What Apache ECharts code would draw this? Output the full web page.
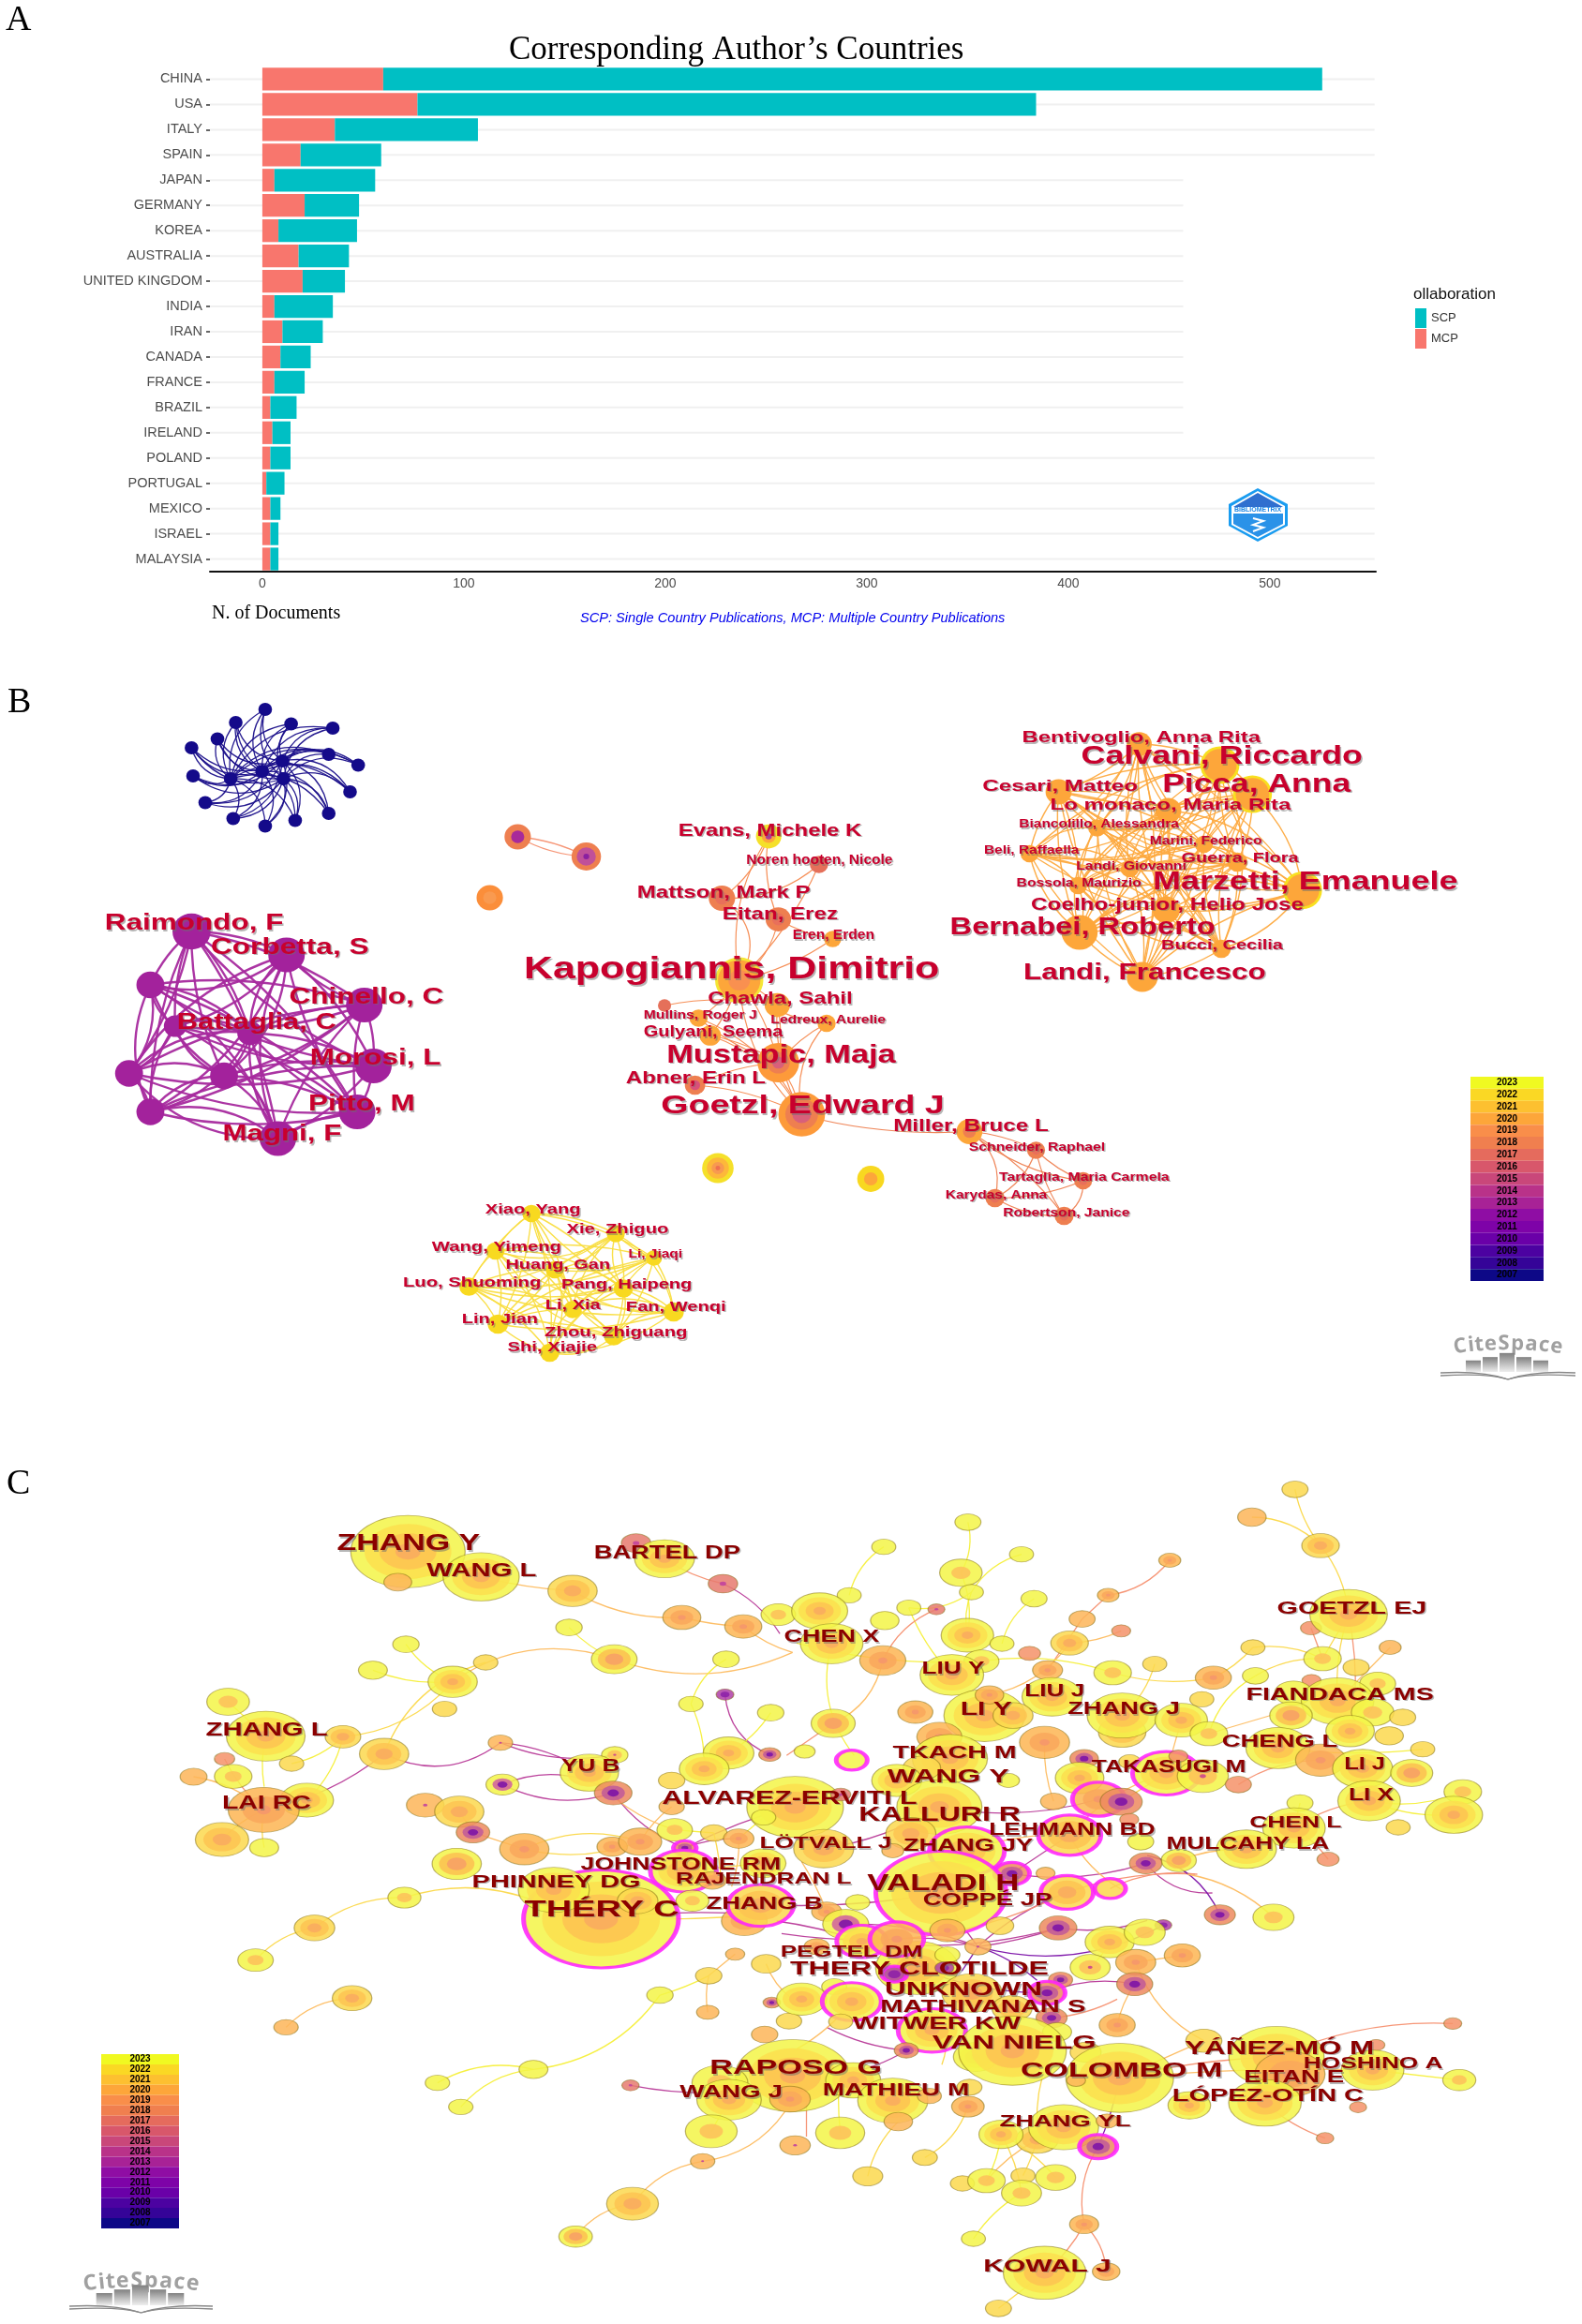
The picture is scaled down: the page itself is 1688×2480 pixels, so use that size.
<!DOCTYPE html>
<html><head><meta charset="utf-8">
<style>html,body{margin:0;padding:0;background:#fff}#c{width:1688px;height:2480px}</style>
<script src="https://cdn.jsdelivr.net/npm/echarts@6/dist/echarts.min.js"></script>
</head><body><div id="c"></div>
<script>
/* ---------- Panel A data ---------- */
const countries=['CHINA','USA','ITALY','SPAIN','JAPAN','GERMANY','KOREA','AUSTRALIA','UNITED KINGDOM','INDIA','IRAN','CANADA','FRANCE','BRAZIL','IRELAND','POLAND','PORTUGAL','MEXICO','ISRAEL','MALAYSIA'];
const mcpDocs=[60,77,36,19,6,21,8,18,20,6,10,9,6,4,5,4,2,4,4,4];
const scpDocs=[466,307,71,40,50,27,39,25,21,29,20,15,15,13,9,10,9,5,4,4];
const xTicks=[0,100,200,300,400,500];
const guideEnds=[552,552,552,552,457,457,457,457,457,457,457,457,457,457,457,552,552,552,552,552];
const years=[2023,2022,2021,2020,2019,2018,2017,2016,2015,2014,2013,2012,2011,2010,2009,2008,2007];
const yearColours=['#f0f921','#fad824','#fdc030','#fda63a','#f98e4a','#f07f4f','#e56b5d','#d8576b','#c9477a','#b93289','#a82296','#8f0da4','#7e03a8','#6a00a8','#4c02a1','#350498','#0d0887'];

/* ---------- Panel B data: [x, y, diameter, class] ---------- */
const blueNodes=[[522,74,27,'bN'],[464,102,27,'bN'],[573,105,27,'bN'],[655,114,27,'bN'],[428,137,27,'bN'],[377,156,27,'bN'],[647,170,27,'bN'],[705,193,27,'bN'],[380,216,27,'bN'],[689,250,27,'bN'],[404,273,27,'bN'],[647,296,27,'bN'],[459,307,27,'bN'],[581,311,27,'bN'],[522,323,27,'bN'],[556,184,27,'bN'],[516,206,27,'bN'],[558,222,27,'bN'],[454,222,27,'bN']];
const purpleNodes=[[377,548,75,'bP'],[564,598,72,'bP'],[296,662,55,'bP'],[717,705,72,'bP'],[345,750,45,'bP'],[492,765,50,'bP'],[735,835,72,'bP'],[254,851,55,'bP'],[441,856,55,'bP'],[703,933,72,'bP'],[296,933,55,'bP'],[547,990,72,'bP']];
const yellowNodes=[[1046,1150,36,'bL'],[1212,1193,36,'bL'],[975,1230,36,'bL'],[1287,1245,32,'bL'],[1092,1270,36,'bL'],[1227,1310,38,'bL'],[923,1306,38,'bL'],[1127,1355,36,'bL'],[1326,1360,40,'bL'],[980,1386,40,'bL'],[1208,1412,38,'bL'],[1082,1447,38,'bL']];
const centreNodes=[[1513,345,50,'bE'],[1421,477,52,'bR'],[1532,522,50,'bR'],[1455,652,95,'bK'],[1530,705,50,'bA'],[1308,706,26,'bS'],[1375,733,36,'bA'],[1398,770,42,'bA'],[1532,828,82,'bM'],[1368,876,40,'bB'],[1578,938,92,'bG'],[1612,405,36,'bS'],[1639,564,34,'bA'],[1627,744,36,'bA']];
const centreLinks=[[0,1,.15],[0,2,-.15],[11,1,.2],[11,3,.1],[1,3,.45],[2,3,.2],[12,2,.1],[3,4,.1],[3,8,.1],[3,10,-.2],[3,13,-.2],[3,6,.1],[3,7,.1],[4,8,.1],[4,10,-.15],[8,10,.1],[7,8,.1],[6,8,-.1],[7,10,.2],[9,8,.1],[9,10,.1],[13,8,-.1],[13,10,-.25],[5,4,.1],[0,3,-.2],[6,10,.2],[3,12,-.1]];
const looseNodesB=[[1019,346,52,'bI1'],[1154,388,58,'bI2'],[964,476,52,'bI3'],[1413,1053,62,'bI4']];
const looseLinksB=[[1019,346,1154,388,-.12,'r'],[1019,346,1154,388,.1,'r']];
const orangeNodes=[[684,148,50,'bA'],[845,193,78,'bAY'],[910,255,78,'bAY'],[523,250,52,'bA'],[742,290,52,'bA'],[600,327,36,'bA'],[813,362,36,'bA'],[465,382,36,'bA'],[665,414,36,'bA'],[880,400,40,'bA'],[562,450,36,'bA'],[1010,460,78,'bAY'],[738,502,55,'bA'],[565,550,72,'bA'],[848,585,38,'bA'],[690,645,62,'bA']];
const millerNodes=[[345,975,52,'bMi'],[478,1015,36,'bR'],[572,1080,36,'bR'],[396,1117,38,'bR'],[534,1155,38,'bR'],[148,1076,54,'bI5']];
const millerLinks=[[345,975,478,1015,.1,'r'],[345,975,572,1080,-.15,'r'],[345,975,396,1117,.35,'r'],[345,975,534,1155,.1,'r'],[478,1015,396,1117,.2,'r'],[478,1015,572,1080,-.1,'r'],[478,1015,534,1155,-.1,'r'],[572,1080,396,1117,.1,'r'],[572,1080,534,1155,.3,'r'],[396,1117,534,1155,-.15,'r'],[10,940,345,975,-.08,'r']];
/* labels: [text, x-start, x-end, y, font px] */
const labelsBLeft=[['Raimondo, F',206,558,532,23],['Corbetta, S',415,726,583,23],['Chinello, C',569,873,689,23],['Battaglia, C',348,662,743,23],['Morosi, L',610,868,820,23],['Pitto, M',607,817,918,23],['Magni, F',438,672,982,23],['Evans, Michele K',1335,1696,333,19],['Noren hooten, Nicole',1469,1757,397,14],['Mattson, Mark P',1254,1595,465,19],['Eitan, Erez',1422,1649,511,19],['Eren, Erden',1560,1721,557,14],['Kapogiannis, Dimitrio',1031,1849,630,33],['Chawla, Sahil',1393,1678,692,19],['Mullins, Roger J',1267,1490,726,13],['Ledreux, Aurelie',1517,1743,736,13],['Gulyani, Seema',1267,1541,764,16],['Mustapic, Maja',1312,1763,813,27],['Abner, Erin L',1232,1507,862,18],['Goetzl, Edward J',1301,1859,922,27],['Xiao, Yang',955,1143,1142,15],['Xie, Zhiguo',1115,1316,1184,15],['Wang, Yimeng',850,1105,1222,15],['Li, Jiaqi',1237,1343,1238,12],['Huang, Gan',995,1201,1260,15],['Luo, Shuoming',793,1065,1297,15],['Pang, Haipeng',1105,1362,1301,15],['Li, Xia',1073,1182,1345,15],['Fan, Wenqi',1232,1429,1349,15],['Lin, Jian',909,1059,1376,15],['Zhou, Zhiguang',1072,1353,1404,15],['Shi, Xiajie',999,1175,1436,15]];
const labelsBRight=[['Bentivoglio, Anna Rita',450,926,135,17],['Calvani, Riccardo',568,1130,176,27],['Picca, Anna',730,1106,235,27],['Cesari, Matteo',371,681,238,17],['Lo monaco, Maria Rita',506,987,279,17],['Biancolillo, Alessandra',444,763,320,12],['Marini, Federico',705,929,355,12],['Beli, Raffaella',374,564,376,12],['Guerra, Flora',768,1002,391,15],['Landi, Giovanni',558,778,409,12],['Bossola, Maurizio',439,688,445,12],['Marzetti, Emanuele',711,1320,444,27],['Coelho-junior, Helio Jose',468,1012,492,18],['Bernabei, Roberto',306,836,540,26],['Bucci, Cecilia',728,971,577,15],['Landi, Francesco',453,937,636,24],['Miller, Bruce L',193,503,964,18],['Schneider, Raphael',344,616,1008,13],['Tartaglia, Maria Carmela',404,744,1072,13],['Karydas, Anna',297,500,1110,13],['Robertson, Janice',412,665,1148,13]];

/* ---------- Panel C data (four reading frames) ---------- */
const nodesCTL=[[803,347,225,'Y'],[783,445,55,'o'],[947,428,150,'Y'],[1252,320,58,'s'],[1308,370,118,'Y'],[1423,450,58,'s'],[1127,473,97,'G'],[1342,558,75,'O'],[1463,587,73,'O'],[1532,549,68,'Yi'],[1120,590,52,'y'],[1209,692,90,'Yo'],[799,644,52,'y'],[734,727,57,'y'],[956,702,48,'g'],[891,764,97,'Y'],[875,851,48,'g'],[1429,692,52,'y'],[1427,805,35,'v'],[1360,835,48,'y'],[1517,863,52,'y'],[449,828,84,'Yi'],[523,938,155,'Y'],[675,940,70,'G'],[756,995,97,'G'],[985,959,48,'D'],[442,1011,40,'r'],[574,1026,48,'g'],[459,1067,74,'Yi'],[381,1068,53,'o'],[1210,998,52,'Yd'],[1160,1055,115,'Y'],[1434,992,100,'Y'],[1386,1043,98,'Y'],[1515,997,43,'p'],[1322,1080,52,'g'],[989,1093,65,'Yp'],[1207,1120,74,'p'],[604,1143,105,'Y'],[519,1174,140,'O'],[1322,1164,50,'o'],[837,1159,74,'D'],[904,1180,97,'G'],[1565,1165,190,'Y'],[1503,1198,48,'y'],[931,1246,66,'p'],[437,1269,105,'G'],[520,1295,57,'y'],[1032,1300,97,'O'],[1205,1292,60,'O'],[1260,1276,85,'O'],[1328,1238,70,'Yi'],[1405,1248,52,'g'],[1454,1266,60,'O'],[1348,1296,45,'pm'],[899,1347,97,'Yo'],[1345,1370,130,'Ym'],[1502,1345,90,'Y'],[1402,1400,55,'O']];
const nodesCTR=[[995,148,52,'g'],[909,237,57,'o'],[1046,328,75,'G'],[342,253,52,'y'],[174,332,48,'y'],[449,356,48,'y'],[745,375,44,'O'],[328,415,85,'Yi'],[105,487,48,'y'],[349,477,48,'y'],[474,498,52,'y'],[279,532,34,'s'],[46,537,112,'Y'],[224,527,48,'y'],[176,568,57,'y'],[622,487,43,'O'],[570,563,52,'o'],[648,601,38,'r'],[341,615,105,'Y'],[410,642,48,'y'],[545,640,75,'G'],[70,642,125,'Y'],[465,673,44,'r'],[172,696,92,'O'],[369,698,70,'Yi'],[310,742,127,'Y'],[501,727,60,'O'],[631,735,75,'Yi'],[715,707,48,'g'],[911,654,48,'g'],[1185,654,44,'o'],[1050,690,75,'Yi'],[1117,718,52,'g'],[916,745,52,'y'],[832,751,72,'O'],[1160,770,72,'Yi'],[1027,592,42,'r'],[1102,548,155,'Y'],[1028,760,38,'r'],[992,800,75,'y'],[809,820,48,'g'],[1080,826,145,'Y'],[510,812,120,'Y'],[375,872,162,'Y'],[432,872,80,'G'],[385,806,57,'O'],[237,861,70,'O'],[987,872,85,'Yo'],[1150,862,85,'Yi'],[1210,878,52,'g'],[650,925,95,'G'],[650,872,140,'Y'],[768,887,105,'Y'],[73,897,88,'Yo'],[1105,922,97,'Y'],[823,930,75,'Yi'],[495,958,100,'O'],[1183,937,57,'g'],[285,940,90,'O'],[16,987,42,'y'],[110,1015,62,'ym'],[961,976,128,'Y'],[1250,980,48,'g'],[574,1010,57,'p'],[1046,1015,100,'O'],[665,1020,44,'g'],[306,1010,150,'Y'],[250,1040,75,'g'],[1130,1042,120,'Y'],[1228,1056,84,'Yo'],[423,1080,44,'y'],[565,1072,97,'Y'],[200,1080,100,'Y'],[738,1057,135,'Ym'],[811,1066,102,'Yd'],[762,1002,38,'r'],[882,1093,52,'r'],[1330,1116,75,'Yi'],[88,1125,40,'s'],[1005,1152,52,'y'],[1143,1145,125,'Y'],[1312,1190,115,'Y'],[603,1140,105,'Om'],[648,1148,84,'p'],[513,1147,52,'o'],[285,1165,170,'Y'],[1201,1230,48,'g'],[664,1205,38,'r'],[993,1232,125,'Y'],[228,1250,100,'G'],[545,1255,125,'Gm'],[687,1276,52,'y'],[54,1298,120,'G'],[192,1305,44,'o'],[763,1336,70,'Yo'],[898,1300,120,'Y'],[1061,1332,44,'r'],[697,1345,65,'p'],[340,1306,150,'Ym'],[430,1378,70,'pm'],[497,1377,38,'o']];
const nodesCBL=[[1183,143,305,'Ym'],[1090,50,140,'Y'],[1255,85,80,'G'],[796,75,65,'Yi'],[1465,150,90,'O'],[1497,100,130,'Gm'],[1363,85,65,'Yi'],[619,172,80,'G'],[503,275,70,'Yi'],[1447,256,38,'o'],[1508,287,58,'g'],[1395,325,52,'g'],[1299,387,52,'y'],[693,397,78,'G'],[563,490,48,'o'],[1393,442,44,'o'],[1519,411,34,'p'],[1553,470,50,'g'],[1505,513,52,'o'],[1241,676,34,'s'],[1050,625,57,'y'],[861,668,48,'y'],[907,745,48,'y'],[1560,645,225,'Y'],[1417,668,110,'Yi'],[1435,722,127,'Y'],[1555,720,80,'O'],[1400,823,102,'Yi'],[1383,919,48,'D'],[1245,1055,102,'G'],[1133,1160,66,'Yo'],[1565,868,60,'D']];
const nodesCBR=[[288,60,260,'Ym'],[540,58,105,'Gm'],[626,46,62,'gm'],[845,130,62,'p'],[952,138,82,'Yi'],[60,120,60,'O'],[122,90,48,'y'],[98,160,92,'Yp'],[240,300,165,'Y'],[130,215,100,'Ym'],[200,208,108,'Om'],[522,172,75,'p'],[732,163,34,'v'],[625,217,98,'Y'],[695,186,82,'Yi'],[406,165,55,'g'],[301,180,70,'O'],[362,232,52,'D'],[770,260,72,'O'],[40,232,50,'O'],[586,298,80,'Yd'],[677,282,80,'O'],[301,258,50,'y'],[195,320,50,'vm'],[295,300,38,'v'],[527,338,48,'p'],[675,352,72,'p'],[500,380,72,'pm'],[10,400,100,'Y'],[75,360,50,'y'],[350,380,120,'G'],[110,408,118,'Ym'],[509,460,62,'p'],[640,483,72,'O'],[88,472,48,'g'],[430,430,80,'G'],[270,500,135,'Ym'],[520,505,58,'y'],[358,585,90,'Y'],[431,565,215,'Y'],[219,564,48,'p'],[577,570,62,'g'],[813,533,72,'g'],[645,652,215,'Y'],[958,585,190,'Y'],[1157,547,35,'r'],[1310,478,36,'r'],[1150,627,125,'Y'],[985,640,140,'O'],[1323,659,66,'Yi'],[558,660,38,'o'],[345,682,50,'g'],[113,660,110,'Y'],[192,725,140,'Y'],[265,710,48,'o'],[784,740,85,'Y'],[935,732,145,'Y'],[1121,746,34,'r'],[342,744,65,'O'],[203,792,57,'o'],[87,828,98,'Yi'],[1055,845,35,'r'],[480,850,85,'G'],[408,833,88,'Y'],[533,810,140,'Y'],[620,790,44,'o'],[602,872,75,'pm'],[256,907,50,'g'],[142,967,60,'g'],[331,990,48,'g'],[379,981,75,'Yi'],[452,965,48,'g'],[517,971,80,'Yi'],[449,1021,80,'Yi'],[574,1121,58,'O'],[353,1167,48,'y'],[495,1276,165,'Y'],[618,1272,55,'O'],[403,1390,52,'g']];
/* links: [x1,y1,x2,y2,curve,class] */
const linksCTL=[[783,445,947,428,.12,'y'],[947,428,1127,473,-.05,'o'],[1127,473,1342,558,-.15,'o'],[1342,558,1463,587,-.05,'o'],[1463,587,1560,670,-.1,'o'],[1308,370,1423,450,-.1,'r'],[1423,450,1535,610,.15,'p'],[1252,320,1308,370,0,'r'],[1120,590,1209,692,-.1,'y'],[1209,692,1560,670,-.2,'o'],[891,764,1209,692,.25,'o'],[799,644,891,764,-.15,'y'],[734,727,891,764,-.12,'y'],[956,702,756,995,-.25,'g'],[891,764,675,940,.2,'g'],[675,940,574,1026,.15,'y'],[756,995,985,959,-.3,'p'],[756,995,519,1174,.12,'p'],[985,959,1160,1055,.12,'p'],[985,959,1210,998,-.15,'p'],[449,828,523,938,0,'y'],[523,938,520,1100,-.1,'y'],[442,1011,519,1174,-.1,'r'],[381,1068,519,1174,.15,'o'],[519,1174,437,1269,-.1,'o'],[519,1174,520,1295,-.1,'g'],[675,940,604,1143,.15,'y'],[989,1093,1207,1120,-.2,'p'],[989,1093,1207,1120,.25,'p'],[1429,692,1360,835,-.2,'y'],[1427,805,1515,997,-.3,'p'],[1360,835,1386,1043,.12,'y'],[1517,863,1434,992,.12,'y'],[1207,1120,1348,1296,-.15,'p'],[1160,1055,1328,1238,-.15,'o'],[904,1180,931,1246,0,'o'],[931,1246,1032,1300,0,'o'],[1032,1300,1260,1276,-.15,'g'],[1032,1300,1260,1276,.2,'g'],[1260,1276,1322,1164,.1,'o'],[1348,1296,1565,1160,.05,'p'],[1348,1296,1454,1266,.1,'p'],[1454,1266,1503,1198,0,'y'],[1328,1238,1405,1248,0,'y'],[1454,1266,1440,1420,.1,'o'],[1405,1248,1420,1420,.05,'g'],[1345,1370,1502,1345,0,'g']];
const linksCTR=[[342,253,328,415,.2,'y'],[174,332,105,487,-.2,'y'],[449,356,349,477,-.2,'y'],[328,415,341,615,.15,'y'],[349,477,341,615,-.15,'y'],[224,527,349,477,-.2,'y'],[224,527,310,742,-.1,'y'],[745,375,622,487,.2,'r'],[622,487,570,563,0,'r'],[570,563,501,727,0,'r'],[648,601,545,640,.1,'o'],[545,640,385,806,.2,'o'],[474,498,410,642,-.2,'y'],[279,532,172,696,-.2,'r'],[172,696,73,897,.25,'o'],[70,642,115,1000,-.25,'y'],[73,897,-20,1000,0,'r'],[995,148,1046,328,-.12,'g'],[909,237,1046,328,.2,'g'],[1046,328,1102,548,.15,'g'],[1027,592,1050,690,0,'r'],[1102,548,1080,826,-.1,'g'],[1102,548,1050,690,0,'g'],[1185,654,1080,826,0,'o'],[911,654,1050,690,.15,'g'],[916,745,1050,690,.15,'g'],[911,654,832,751,.1,'g'],[715,707,650,872,.15,'g'],[631,735,832,751,-.12,'g'],[0,640,369,698,-.08,'y'],[369,698,631,735,.12,'y'],[916,745,823,930,-.2,'y'],[768,887,738,1057,0,'o'],[961,976,1250,980,-.06,'y'],[1143,1145,1312,1190,-.12,'y'],[1330,1116,1143,1145,.15,'y'],[1005,1152,993,1232,0,'y'],[882,1093,1046,1015,.15,'r'],[993,1232,1143,1145,.12,'r'],[993,1232,1061,1332,.1,'r'],[763,1336,898,1300,.1,'o'],[738,1057,545,1255,-.15,'o'],[738,1057,648,1148,0,'g'],[603,1140,285,1165,.12,'p'],[285,1165,54,1298,.1,'p'],[513,1147,495,958,.1,'o'],[697,1345,430,1378,.12,'p'],[697,1345,830,1440,-.25,'p'],[545,1255,650,1430,-.15,'o'],[340,1306,545,1255,.1,'o'],[430,1378,545,1255,0,'p'],[950,870,823,930,0,'o'],[1102,548,1115,820,.06,'r']];
const linksCBR=[[540,58,800,0,.1,'r'],[626,46,795,0,.15,'r'],[845,130,700,-60,-.25,'v'],[952,138,780,0,-.15,'o'],[522,172,700,148,-.12,'p'],[522,172,362,232,.05,'p'],[362,232,732,163,-.2,'v'],[362,232,540,58,.1,'p'],[362,232,290,50,.05,'p'],[200,208,362,232,.1,'p'],[200,208,540,58,-.1,'r'],[130,215,522,172,-.1,'p'],[98,160,362,232,.1,'p'],[240,300,500,380,-.1,'v'],[362,232,330,310,0,'v'],[362,232,480,340,.1,'v'],[500,380,675,352,.15,'p'],[625,217,586,298,.1,'y'],[677,282,770,260,0,'o'],[677,282,813,533,-.2,'o'],[640,483,675,352,.1,'o'],[509,460,640,400,-.1,'r'],[813,533,645,652,0,'o'],[645,652,958,585,.05,'r'],[645,652,1150,627,.03,'o'],[958,585,1310,478,.12,'r'],[1150,627,1323,659,0,'y'],[935,732,1055,845,-.1,'r'],[645,652,602,872,.05,'v'],[602,872,574,1121,-.2,'r'],[574,1121,495,1276,.1,'r'],[574,1121,618,1272,.2,'r'],[495,1276,403,1390,0,'g'],[353,1167,449,1021,.12,'y'],[408,833,379,981,.1,'y'],[408,833,449,1021,.1,'g'],[408,833,517,971,.1,'g'],[480,850,379,981,-.1,'o'],[480,850,452,965,.05,'g'],[342,744,256,907,.2,'g'],[203,792,142,967,-.15,'g'],[500,600,480,800,-.1,'g'],[219,564,90,640,.1,'p'],[219,564,60,490,.1,'p'],[87,828,87,600,.05,'y'],[-20,100,288,60,-.05,'p'],[-30,190,200,208,-.05,'p'],[-40,150,130,215,.05,'p'],[10,-40,60,120,.05,'o'],[20,650,20,840,0,'r'],[110,408,0,560,.1,'o'],[300,500,290,610,.1,'g']];
const linksCBL=[[796,75,1060,90,.18,'g'],[619,172,796,75,.18,'g'],[503,275,619,172,.18,'g'],[693,397,563,490,-.2,'o'],[1299,387,1050,625,.22,'y'],[1050,625,861,668,-.2,'y'],[1050,625,907,745,-.2,'y'],[1299,387,1395,325,-.05,'y'],[1395,325,1447,256,0,'o'],[1393,442,1395,325,.1,'o'],[1241,676,1400,700,-.05,'p'],[1383,919,1245,1055,-.2,'o'],[1383,919,1545,760,-.22,'o'],[1245,1055,1133,1160,-.2,'o'],[1183,143,1465,135,-.02,'g'],[1183,143,1497,130,.05,'p'],[1508,287,1560,400,-.15,'o'],[1400,823,1435,722,0,'y']];
const labelsCTL=[['ZHANG Y',663,945,324,23],['WANG L',840,1056,408,20],['BARTEL DP',1169,1457,352,20],['CHEN X',1543,1731,622,18],['ZHANG L',405,645,918,20],['YU B',1105,1220,1036,18],['LAI RC',437,612,1154,20],['ALVAREZ-ERVITI L',1303,1805,1137,20],['LÖTVALL J',1495,1755,1282,17],['JOHNSTONE RM',1143,1537,1349,18],['RAJENDRAN L',1330,1676,1396,17],['PHINNEY DG',929,1261,1405,19]];
const labelsCTR=[['LIU Y',250,375,724,18],['LI Y',327,430,852,20],['LIU J',455,575,795,18],['ZHANG J',541,765,853,18],['GOETZL EJ',959,1258,530,19],['FIANDACA MS',897,1272,806,19],['CHENG L',849,1080,957,18],['TKACH M',192,439,992,19],['TAKASUGI M',589,897,1038,18],['WANG Y',181,424,1068,21],['LI J',1093,1175,1029,18],['LI X',1102,1192,1128,18],['KALLURI R',124,447,1190,22],['CHEN L',904,1088,1215,17],['LEHMANN BD',384,716,1240,18],['MULCAHY LA',738,1063,1285,18],['ZHANG JY',213,472,1288,19],['VALADI H',141,444,1412,23]];
const labelsCBL=[['THÉRY C',1032,1337,115,24],['ZHANG B',1390,1619,95,18],['PEGTEL DM',1536,1816,252,16],['RAPOSO G',1397,1736,622,22],['WANG J',1338,1540,700,18]];
const labelsCBR=[['COPPÉ JP',252,510,85,18],['THERY CLOTILDE',-13,503,304,21],['UNKNOWN',176,490,370,21],['MATHIVANAN S',167,577,425,19],['WITWER KW',112,447,480,18],['VAN NIELG',271,598,540,21],['YÁÑEZ-MÓ M',775,1153,558,20],['HOSHINO A',1012,1290,608,17],['COLOMBO M',447,850,630,22],['EITAN E',893,1093,652,18],['MATHIEU M',52,345,693,18],['LÓPEZ-OTÍN C',750,1132,710,18],['ZHANG YL',405,667,792,17],['KOWAL J',373,628,1256,19]];

/* ---------- styling ---------- */
const linkColours={y:'#f5ef3a',g:'#fbd84a',o:'#fdbc60',r:'#f59070',p:'#b83a98',v:'#7a10a8'};
const rings={
 y:[[1,'#f3f548']],Y:[[1,'#f3f548'],[.76,'#fbe04e'],[.5,'#fdc452'],[.22,'#f9ab60']],
 Yi:[[1,'#f3f548'],[.45,'#fdc05a']],Yo:[[1,'#f3f548'],[.72,'#fbc050'],[.4,'#f79f66']],
 Yd:[[1,'#f3f548'],[.55,'#fdc05a'],[.12,'#c9408e']],Yp:[[1,'#f3f548'],[.6,'#d060a0'],[.3,'#7a10a8']],
 g:[[1,'#fcd94f']],G:[[1,'#fcd94f'],[.7,'#fdc452'],[.35,'#f9ab60']],
 o:[[1,'#fdb65a']],O:[[1,'#fdb654'],[.6,'#f9a85c'],[.2,'#f5966c']],D:[[1,'#fdb65a'],[.12,'#c03aa0']],
 s:[[1,'#e77b70'],[.22,'#c040a0']],r:[[1,'#f5936a']],
 p:[[1,'#ee8a60'],[.62,'#c05a98'],[.3,'#7a10a8']],v:[[1,'#b040a8'],[.5,'#8a20a8']],
 bN:[[1,'#140a8a']],bP:[[1,'#a3229c']],bL:[[1,'#f8d920']],bA:[[1,'#fda63a']],bAY:[[1,'#f8e020'],[.86,'#fda63a']],
 bE:[[1,'#f5e02a'],[.55,'#fda63a'],[.25,'#b03a98']],bR:[[1,'#ee7f50'],[.5,'#e8705a']],bK:[[1,'#f5e635'],[.88,'#fda63a'],[.45,'#f99050']],
 bM:[[1,'#fd9a3a'],[.55,'#ee7f50'],[.3,'#d8607a']],bG:[[1,'#fd9a3a'],[.7,'#ee7f50'],[.4,'#d8607a']],bB:[[1,'#ee7f50'],[.5,'#d8507a']],bS:[[1,'#e5705a']],
 bI1:[[1,'#ee7f50'],[.5,'#a82a9a']],bI2:[[1,'#ee7f50'],[.65,'#c0509a'],[.2,'#8a20a0']],bI3:[[1,'#fb8e3a'],[.5,'#f99a50']],
 bI4:[[1,'#f5e02a'],[.7,'#fdb83a'],[.4,'#f79a50'],[.15,'#f07050']],bI5:[[1,'#f8d820'],[.5,'#fda63a']],bMi:[[1,'#fda63a'],[.5,'#ee7f50']]
};
function fullMesh(nodes,colour){const out=[];for(let i=0;i<nodes.length;i++)for(let j=i+1;j<nodes.length;j++){
  const c=((i+j)%2?1:-1)*(.12+.06*((i*j)%3));out.push([nodes[i][0],nodes[i][1],nodes[j][0],nodes[j][1],c,colour]);}return out;}
function hubLinks(nodes,nHubs,colour){const out=[],k=nodes.length-nHubs;for(let h=k;h<nodes.length;h++)for(let i=0;i<k;i++)out.push([nodes[h][0],nodes[h][1],nodes[i][0],nodes[i][1],.35,colour]);return out;}

/* ---------- option assembly ---------- */
const grids=[],xAxes=[],yAxes=[],series=[];
const ctx=document.createElement('canvas').getContext('2d');
function addFrame(f){
  const gi=grids.length;
  grids.push({left:f.left,top:f.top,width:f.width,height:f.height,containLabel:false});
  xAxes.push({gridIndex:gi,type:'value',min:0,max:f.xMax,show:false});
  yAxes.push({gridIndex:gi,type:'value',min:0,max:f.yMax,inverse:true,show:false});
  const sx=f.width/f.xMax, sy=f.height/f.yMax;
  (f.groups||[]).forEach(g=>{
    series.push({type:'lines',coordinateSystem:'cartesian2d',xAxisIndex:gi,yAxisIndex:gi,clip:false,z:2,silent:true,polyline:false,
      data:g.links.map(l=>({coords:[[l[0],l[1]],[l[2],l[3]]],lineStyle:{color:g.linkColour||linkColours[l[5]],width:g.linkWidth||1.3,curveness:l[4],opacity:g.linkOpacity||.95}}))});
  });
  const ringData=[];
  f.nodes.forEach(n=>{
    let t=n[3],mag=false;
    if(t.endsWith('m')){mag=true;t=t.slice(0,-1);}
    rings[t].forEach((r,i)=>{
      const it={value:[n[0],n[1]],symbolSize:[n[2]*sx*r[0],n[2]*sy*r[0]*1.03],itemStyle:{color:r[1],opacity:f.ringOpacity||1}};
      if(i===0){
        if(mag){it.itemStyle.borderColor='#ff20ff';it.itemStyle.borderWidth=4;}
        else if(f.border){it.itemStyle.borderColor=f.border;it.itemStyle.borderWidth=1;}
      }
      ringData.push(it);
    });
  });
  series.push({type:'scatter',xAxisIndex:gi,yAxisIndex:gi,clip:false,z:3,silent:true,symbol:'circle',data:ringData});
  const labs=f.labels||[];
  series.push({type:'custom',xAxisIndex:gi,yAxisIndex:gi,z:6,silent:true,clip:false,
    data:labs.map(l=>[(l[1]+l[2])/2,l[3]]),
    renderItem:(p,api)=>{
      const l=labs[p.dataIndex],pt=api.coord([(l[1]+l[2])/2,l[3]]);
      const font='bold '+l[4]+'px "Liberation Sans", Arial, sans-serif';
      ctx.font=font;
      const sc=(l[2]-l[1])*sx/ctx.measureText(l[0]).width;
      const mk=(dx,dy,fill)=>({type:'text',x:pt[0]+dx,y:pt[1]+dy,scaleX:sc,style:{text:l[0],x:0,y:0,align:'center',verticalAlign:'middle',font:font,fill:fill}});
      return {type:'group',children:[mk(1.5,1.5,'rgba(110,110,110,.5)'),mk(0,0,f.labelColour)]};
    }});
}
function addPanelA(){
  const gi=grids.length;
  grids.push({left:224,top:71,width:1244,height:539});
  xAxes.push({gridIndex:gi,type:'value',min:-26,max:552.6,splitLine:{show:false},axisTick:{show:false},
    axisLine:{show:true,onZero:false,lineStyle:{color:'#111',width:2}},
    axisLabel:{color:'#4d4d4d',fontSize:14,fontFamily:'Liberation Sans',margin:6,customValues:xTicks,hideOverlap:false,formatter:v=>String(v)}});
  yAxes.push({gridIndex:gi,type:'category',data:countries,inverse:true,splitLine:{show:false},
    axisLine:{show:false,onZero:false},axisTick:{show:true,alignWithLabel:true,length:4,lineStyle:{color:'#333',width:1.5}},
    axisLabel:{color:'#4d4d4d',fontSize:14.5,fontFamily:'Liberation Sans',margin:8}});
  series.push({type:'custom',xAxisIndex:gi,yAxisIndex:gi,z:1,silent:true,
    data:guideEnds.map((e,i)=>[e,i]),
    renderItem:(p,api)=>{const a=api.coord([-26,p.dataIndex]),b=api.coord([guideEnds[p.dataIndex],p.dataIndex]);
      return {type:'line',shape:{x1:a[0],y1:a[1],x2:b[0],y2:b[1]},style:{stroke:'#f0f0f0',lineWidth:2}};}});
  const bar=(name,data,color)=>({name,type:'bar',stack:'docs',xAxisIndex:gi,yAxisIndex:gi,z:3,barCategoryGap:'10%',data,itemStyle:{color}});
  series.push(bar('MCP',mcpDocs,'#f8766d'),bar('SCP',scpDocs,'#00bfc4'));
}
function addColourbar(left,top,width,height,fs){
  const gi=grids.length;
  grids.push({left,top,width,height});
  xAxes.push({gridIndex:gi,type:'value',min:0,max:1,show:false});
  yAxes.push({gridIndex:gi,type:'category',data:years.map(String),inverse:true,show:false});
  series.push({type:'bar',xAxisIndex:gi,yAxisIndex:gi,barWidth:'100%',silent:true,z:4,
    data:years.map((y,i)=>({value:1,itemStyle:{color:yearColours[i]},label:{show:true,position:'inside',formatter:String(y),color:'#000',fontSize:fs,fontWeight:'bold',fontFamily:'Liberation Sans'}}))});
}
addPanelA();
addFrame({left:0,top:720,width:850,height:780,xMax:1568,yMax:1560,labelColour:'#c8002d',
  groups:[{links:hubLinks(blueNodes,4,'n'),linkColour:'#1a0f8a',linkWidth:1.3},
          {links:fullMesh(purpleNodes,'p'),linkColour:'#a62a9e',linkWidth:2.4},
          {links:fullMesh(yellowNodes,'y'),linkColour:'#f9dd40',linkWidth:1.4},
          {links:centreLinks.map(e=>[centreNodes[e[0]][0],centreNodes[e[0]][1],centreNodes[e[1]][0],centreNodes[e[1]][1],e[2],'r']),linkColour:'#f58a50',linkWidth:1.2},
          {links:looseLinksB}],
  nodes:[...blueNodes,...purpleNodes,...yellowNodes,...centreNodes,...looseNodesB],labels:labelsBLeft});
addFrame({left:850,top:720,width:838,height:780,xMax:1568,yMax:1560,labelColour:'#c8002d',
  groups:[{links:fullMesh(orangeNodes,'o'),linkColour:'#fdaa40',linkWidth:1.4},{links:millerLinks,linkColour:'#ee7f50',linkWidth:1.2}],
  nodes:[...orangeNodes,...millerNodes],labels:labelsBRight});
const cb='rgba(130,110,20,.6)', ro=.86;
addFrame({left:0,top:1540,width:850,height:480,xMax:1568,yMax:1440,labelColour:'#8b0000',border:cb,ringOpacity:ro,groups:[{links:linksCTL}],nodes:nodesCTL,labels:labelsCTL});
addFrame({left:850,top:1540,width:838,height:480,xMax:1568,yMax:1440,labelColour:'#8b0000',border:cb,ringOpacity:ro,groups:[{links:linksCTR}],nodes:nodesCTR,labels:labelsCTR});
addFrame({left:0,top:2000,width:850,height:480,xMax:1568,yMax:1440,labelColour:'#8b0000',border:cb,ringOpacity:ro,groups:[{links:linksCBL}],nodes:nodesCBL,labels:labelsCBL});
addFrame({left:850,top:2000,width:838,height:480,xMax:1568,yMax:1440,labelColour:'#8b0000',border:cb,ringOpacity:ro,groups:[{links:linksCBR}],nodes:nodesCBR,labels:labelsCBR});
addColourbar(1569,1149,78,218,10);
addColourbar(108,2192,83,186,10);

/* ---------- decorative graphics ---------- */
const serif='"Liberation Serif","Times New Roman",serif', sans='"Liberation Sans",Arial,sans-serif';
const txt=(text,x,y,font,fill,extra)=>Object.assign({type:'text',x,y,z:20,silent:true,style:{text,font,fill,align:'left',verticalAlign:'middle'}},extra||{});
function citeLogo(cx,W,textY,barBottom,fs){
  const out=[],letters='CiteSpace',adv=[.64,.30,.40,.58,.56,.62,.58,.50,.58],tw=adv.reduce((a,b)=>a+b,0);
  const ww=W*.82;let acc=0;
  letters.split('').forEach((ch,i)=>{
    const f=(acc+adv[i]/2)/tw;acc+=adv[i];
    out.push({type:'text',x:cx-ww/2+f*ww,y:textY+Math.pow(f-.5,2)*16,rotation:(.5-f)*.32,z:20,silent:true,
      style:{text:ch,font:'bold '+fs+'px "Open Sans",sans-serif',fill:'#a0a0a0',align:'center',verticalAlign:'middle'}});
  });
  const bw=W*.125,hs=[W*.085,W*.11,W*.14,W*.11,W*.085];
  hs.forEach((h,i)=>out.push({type:'rect',z:20,silent:true,shape:{x:cx+(i-2.5)*bw,y:barBottom-h,width:bw-2,height:h},
    style:{fill:new echarts.graphic.LinearGradient(0,0,0,1,[{offset:0,color:'#808080'},{offset:1,color:'#eeeeee'}])}}));
  [[0,'#888'],[3,'#888']].forEach(o=>{
    [-1,1].forEach(s=>out.push({type:'bezierCurve',z:20,silent:true,shape:{x1:cx+s*W/2,y1:barBottom+1+o[0],x2:cx,y2:barBottom+8,cpx1:cx+s*W*.25,cpy1:barBottom-1+o[0],cpx2:cx+s*W*.1,cpy2:barBottom+3},style:{stroke:o[1],lineWidth:1.3,fill:null}}));
  });
  return out;
}
const biblio=[
 {type:'polygon',z:20,silent:true,shape:{points:[[1342,521],[1374,538],[1374,561],[1342,578],[1311,561],[1311,538]]},style:{fill:'#1a9cf0'}},
 {type:'polygon',z:20,silent:true,shape:{points:[[1342,524],[1371,540],[1371,560],[1342,575],[1314,560],[1314,540]]},style:{fill:'#ffffff'}},
 {type:'polygon',z:20,silent:true,shape:{points:[[1342,526],[1369,541],[1316,541]]},style:{fill:'#2f6fcf'}},
 {type:'polygon',z:20,silent:true,shape:{points:[[1316,548],[1369,548],[1369,559],[1342,573],[1316,559]]},style:{fill:'#2a92e8'}},
 {type:'polyline',z:21,silent:true,shape:{points:[[1337,553],[1348,556],[1337,560],[1348,563],[1337,567]]},style:{stroke:'#fff',lineWidth:2,fill:null}},
 {type:'text',x:1342,y:544.5,z:21,silent:true,style:{text:'BIBLIOMETRIX',font:'bold 7px '+sans,fill:'#1e88e5',align:'center',verticalAlign:'middle'}}
];
const graphics=[
 txt('A',6,22,'38px '+serif,'#000'),
 txt('B',8,750,'38px '+serif,'#000'),
 txt('C',7,1584,'38px '+serif,'#000'),
 txt('Corresponding Author’s Countries',543,54,'35px '+serif,'#000'),
 txt('N. of Documents',226,655,'20px '+serif,'#000'),
 txt('SCP: Single Country Publications, MCP: Multiple Country Publications',619,660,'italic 14.6px '+sans,'#0000ee'),
 txt('ollaboration',1508,314,'17px '+sans,'#111'),
 ...biblio,
 ...citeLogo(1609,144,1434,1464,22),
 ...citeLogo(150.5,153,2434,2460,23)
];

const chart=echarts.init(document.getElementById('c'),null,{width:1688,height:2480});
chart.setOption({
  animation:false,backgroundColor:'#fff',
  grid:grids,xAxis:xAxes,yAxis:yAxes,series,
  legend:{data:['SCP','MCP'],orient:'vertical',left:1510,top:329,padding:0,itemWidth:12,itemHeight:21,itemGap:1,selectedMode:false,
    textStyle:{fontSize:13,color:'#333',fontFamily:'Liberation Sans'},icon:'rect'},
  graphic:graphics
});
</script></body></html>
